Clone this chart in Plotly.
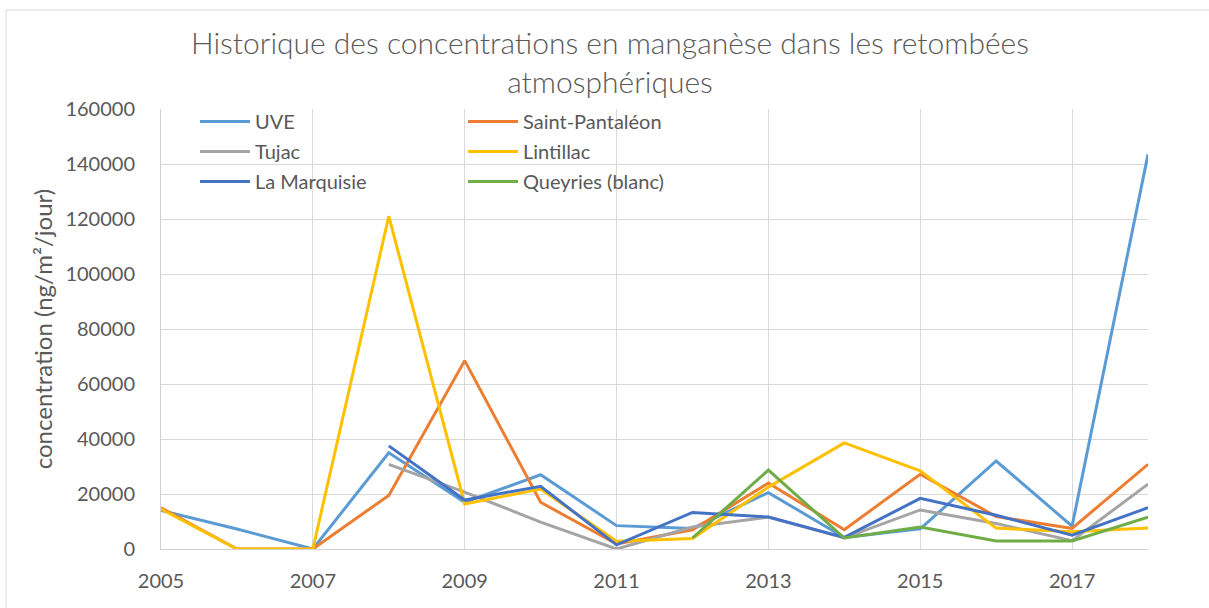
import plotly.graph_objects as go

years = list(range(2005, 2019))

uve = [14000, 7300, 0, 35000, 17000, 27000, 8500, 7500, 20500, 4200, 7300, 32000, 8300, 143500]
saint_pantaleon = [15000, 0, 0, 19500, 68500, 17000, 1800, 7000, 24000, 7000, 27200, 11800, 7500, 30800]
tujac = [None, None, None, 30800, 20700, 9800, 0, 8000, 11600, 4000, 14200, 9300, 3000, 23600]
lintillac = [14500, 0, 0, 121000, 16400, 21800, 2800, 3800, 22500, 38600, 28400, 7600, 6300, 7600]
la_marquisie = [None, None, None, 37500, 17800, 22800, 1500, 13300, 11600, 4200, 18400, 12300, 5000, 15000]
queyries = [None, None, None, None, None, None, None, 4000, 28700, 4000, 8000, 2900, 2900, 11600]

series = [
    ("UVE", uve, "#5B9BD5", "legend"),
    ("Saint-Pantaléon", saint_pantaleon, "#ED7D31", "legend2"),
    ("Tujac", tujac, "#A5A5A5", "legend"),
    ("Lintillac", lintillac, "#FFC000", "legend2"),
    ("La Marquisie", la_marquisie, "#4472C4", "legend"),
    ("Queyries (blanc)", queyries, "#70AD47", "legend2"),
]

FONT = "Lato"
GREY = "#595959"

fig = go.Figure()
for name, vals, color, leg in series:
    fig.add_trace(go.Scatter(
        x=years, y=vals, name=name, mode="lines",
        line=dict(color=color, width=3),
        legend=leg, legendgroup=name,
    ))

W, H = 1209, 608
L, R, T, B = 161, 61, 109, 59
pw, ph = W - L - R, H - T - B

def px_x(p):
    return (p - L) / pw

def px_y(p):
    return (H - B - p) / ph

legend_common = dict(
    orientation="v", yanchor="top", xanchor="left",
    bgcolor="rgba(0,0,0,0)", font=dict(family=FONT, size=20, color=GREY),
    traceorder="grouped", tracegroupgap=1, itemwidth=50,
)

fig.update_layout(
    width=W, height=H,
    margin=dict(l=L, r=R, t=T, b=B),
    paper_bgcolor="white", plot_bgcolor="white",
    font=dict(family=FONT, color=GREY),
    title=dict(
        text="Historique des concentrations en manganèse dans les retombées<br>atmosphériques",
        x=610 / W, xanchor="center", xref="container", y=1 - 54 / H, yanchor="middle",
        font=dict(family=FONT, size=30, color=GREY, weight=300),
    ),
    legend=dict(x=px_x(195), y=px_y(102), **legend_common),
    legend2=dict(x=px_x(463), y=px_y(102), **legend_common),
    xaxis=dict(
        range=[2005, 2018], tick0=2005, dtick=2,
        showgrid=True, gridcolor="#D9D9D9", gridwidth=1,
        showline=True, linecolor="#D0D0D0", linewidth=1,
        zeroline=False, ticks="", ticklabelstandoff=14,
        tickfont=dict(family=FONT, size=20, color=GREY),
    ),
    yaxis=dict(
        range=[0, 160000], dtick=20000,
        showgrid=True, gridcolor="#D9D9D9", gridwidth=1,
        showline=True, linecolor="#D0D0D0", linewidth=1,
        zeroline=False, ticks="", ticklabelstandoff=21,
        tickformat="d",
        tickfont=dict(family=FONT, size=20, color=GREY),
        title=dict(text="concentration (ng/m²/jour)", standoff=5,
                   font=dict(family=FONT, size=24, color=GREY)),
    ),
    showlegend=True,
)

fig.add_shape(
    type="rect", xref="paper", yref="paper",
    x0=px_x(6), x1=px_x(1230), y0=px_y(640), y1=px_y(10),
    line=dict(color="#D9D9D9", width=1), fillcolor="rgba(0,0,0,0)", layer="below",
)

fig.write_html(
    "out.html",
    config={"displayModeBar": False},
    post_script="document.body.style.margin='0';document.body.style.padding='0';document.body.style.overflow='hidden';document.documentElement.style.overflow='hidden';",
)
